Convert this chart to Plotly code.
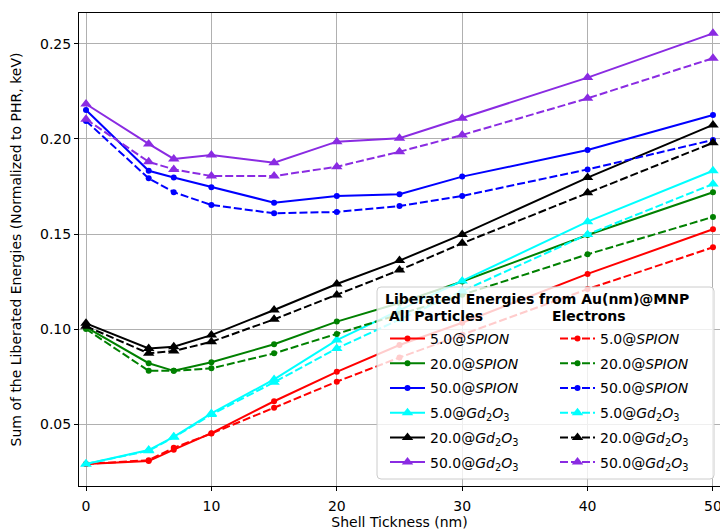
import plotly.graph_objects as go

shell = [0, 5, 7, 10, 15, 20, 25, 30, 40, 50]

all_5_spion = [0.029, 0.0305, 0.0365, 0.0452, 0.062, 0.0775, 0.0916, 0.1033, 0.129, 0.1525]
all_20_spion = [0.101, 0.082, 0.078, 0.0825, 0.092, 0.1039, 0.1137, 0.125, 0.1495, 0.172]
all_50_spion = [0.2153, 0.1833, 0.1797, 0.1746, 0.1665, 0.170, 0.1709, 0.1802, 0.1942, 0.2126]
all_5_gd = [0.029, 0.0363, 0.0433, 0.0556, 0.0735, 0.0942, 0.110, 0.1253, 0.1565, 0.1833]
all_20_gd = [0.103, 0.0898, 0.0907, 0.0968, 0.110, 0.1237, 0.136, 0.1498, 0.1797, 0.2074]
all_50_gd = [0.2184, 0.1974, 0.1895, 0.1916, 0.1875, 0.1986, 0.2004, 0.2109, 0.2323, 0.2556]

el_5_spion = [0.029, 0.031, 0.0375, 0.045, 0.0586, 0.0723, 0.085, 0.097, 0.121, 0.143]
el_20_spion = [0.100, 0.078, 0.078, 0.0793, 0.0872, 0.0974, 0.108, 0.118, 0.1393, 0.159]
el_50_spion = [0.2095, 0.1793, 0.172, 0.1653, 0.1609, 0.1616, 0.1647, 0.170, 0.184, 0.1995]
el_5_gd = [0.029, 0.036, 0.043, 0.055, 0.072, 0.0898, 0.105, 0.120, 0.1498, 0.1763]
el_20_gd = [0.1015, 0.0872, 0.0884, 0.0933, 0.1051, 0.1179, 0.131, 0.1451, 0.1717, 0.198]
el_50_gd = [0.2104, 0.188, 0.184, 0.1805, 0.1805, 0.1854, 0.1933, 0.2021, 0.2214, 0.2425]

spion = "@<i>SPION</i>"
gd = "@<i>Gd</i><sub>2</sub><i>O</i><sub>3</sub>"
series = [
    ("5.0" + spion, all_5_spion, el_5_spion, "#ff0000", "circle"),
    ("20.0" + spion, all_20_spion, el_20_spion, "#008000", "circle"),
    ("50.0" + spion, all_50_spion, el_50_spion, "#0000ff", "circle"),
    ("5.0" + gd, all_5_gd, el_5_gd, "#00ffff", "triangle-up"),
    ("20.0" + gd, all_20_gd, el_20_gd, "#000000", "triangle-up"),
    ("50.0" + gd, all_50_gd, el_50_gd, "#8a2be2", "triangle-up"),
]

fig = go.Figure()
for i, (name, ya, ye, col, sym) in enumerate(series):
    msize = 6 if sym == "circle" else 10
    fig.add_trace(go.Scatter(
        x=shell, y=ya, mode="lines+markers", name=name,
        line=dict(color=col, width=2), marker=dict(color=col, symbol=sym, size=msize),
        legend="legend", legendgroup="a%d" % i))
for i, (name, ya, ye, col, sym) in enumerate(series):
    msize = 6 if sym == "circle" else 10
    fig.add_trace(go.Scatter(
        x=shell, y=ye, mode="lines+markers", name=name,
        line=dict(color=col, width=2, dash="8px,3px"), marker=dict(color=col, symbol=sym, size=msize),
        legend="legend2", legendgroup="e%d" % i))

font = dict(family="DejaVu Sans", size=14, color="#000000")
legfont = dict(family="DejaVu Sans", size=14, color="#000000")

# legend frame (paper coords)
W, H = 720, 530
ml, mr, mt, mb = 79, 0, 13, 44
pw, ph = W - ml - mr, H - mt - mb

def px(x):
    return (x - ml) / pw

def py(y):
    return (H - mb - y) / ph

x0, x1, y0, y1 = 377, 714, 287, 479
r = 4
path = (f"M{px(x0 + r)},{py(y0)} L{px(x1 - r)},{py(y0)} Q{px(x1)},{py(y0)} {px(x1)},{py(y0 + r)} "
        f"L{px(x1)},{py(y1 - r)} Q{px(x1)},{py(y1)} {px(x1 - r)},{py(y1)} "
        f"L{px(x0 + r)},{py(y1)} Q{px(x0)},{py(y1)} {px(x0)},{py(y1 - r)} "
        f"L{px(x0)},{py(y0 + r)} Q{px(x0)},{py(y0)} {px(x0 + r)},{py(y0)} Z")
fig.add_shape(type="path", xref="paper", yref="paper", path=path,
              fillcolor="rgba(255,255,255,0.8)", line=dict(color="#cccccc", width=1), layer="above")

fig.add_annotation(xref="paper", yref="paper", x=px(383), y=py(299), xanchor="left", yanchor="middle",
                   text="<b>Liberated Energies from Au(nm)@MNP</b>", showarrow=False, font=legfont)
fig.add_annotation(xref="paper", yref="paper", x=px(387), y=py(316), xanchor="left", yanchor="middle",
                   text="<b>All Particles</b>", showarrow=False, font=legfont)
fig.add_annotation(xref="paper", yref="paper", x=px(550), y=py(316), xanchor="left", yanchor="middle",
                   text="<b>Electrons</b>", showarrow=False, font=legfont)

common_leg = dict(bgcolor="rgba(0,0,0,0)", borderwidth=0, font=legfont, tracegroupgap=3.5,
                  xanchor="left", yanchor="top", itemwidth=35)
fig.update_layout(
    legend=dict(x=px(385), y=py(323), **common_leg),
    legend2=dict(x=px(555), y=py(323), **common_leg),
)

fig.update_layout(
    width=W, height=H,
    margin=dict(l=ml, r=mr, t=mt, b=mb, autoexpand=False),
    paper_bgcolor="white", plot_bgcolor="white",
    font=font, showlegend=True,
    xaxis=dict(range=[-0.558, 50.56], tickvals=[0, 10, 20, 30, 40, 50], ticks="outside", ticklen=4,
               tickcolor="black", showline=True, linecolor="black", linewidth=1, mirror=True,
               showgrid=True, gridcolor="#b0b0b0", gridwidth=1, zeroline=False,
               ticklabeloverflow="allow", ticklabelstandoff=3,
               title=dict(text="Shell Tickness (nm)", standoff=5, font=font), tickfont=font),
    yaxis=dict(range=[0.0174, 0.2663], tickvals=[0.05, 0.10, 0.15, 0.20, 0.25], tickformat=".2f",
               ticks="outside", ticklen=4, tickcolor="black", showline=True, linecolor="black",
               linewidth=1, showgrid=True, gridcolor="#b0b0b0", gridwidth=1, zeroline=False,
               title=dict(text="Sum of the Liberated Energies (Normalized to PHR, keV)", standoff=15, font=font),
               tickfont=font),
)

fig.write_html("out.html")
